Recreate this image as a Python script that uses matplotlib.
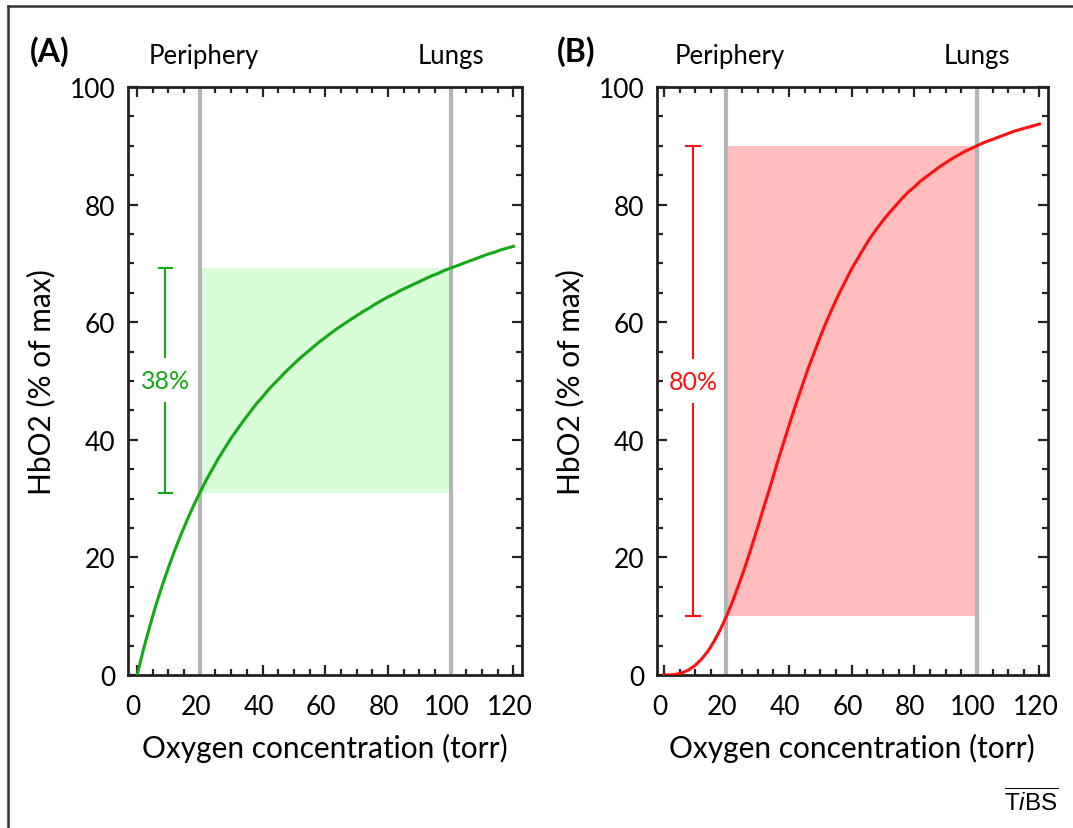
#!/usr/bin/env python3
# -*- coding: utf-8 -*-
"""
Curvas de saturacao de HbO2 vs. pressao de O2: ligacao nao cooperativa (A,
hiperbolica) e cooperativa (B, sigmoide), com a fracao entregue entre
pulmao (100 torr) e periferia (20 torr) destacada.
"""
import matplotlib
matplotlib.use('Agg')
import matplotlib.pyplot as plt
from matplotlib.lines import Line2D
from matplotlib.ticker import MultipleLocator
from matplotlib.transforms import ScaledTranslation

plt.rcParams['font.family'] = ['Lato', 'DejaVu Sans']
plt.rcParams['mathtext.fontset'] = 'custom'
plt.rcParams['mathtext.rm'] = 'Liberation Sans'
plt.rcParams['mathtext.it'] = 'Liberation Sans:italic'

# ── dados ────────────────────────────────────────────────────────────────
oxygen_torr = list(range(0, 122, 2))

hbo2_noncoop = [
    0.0, 4.3, 8.2, 11.9, 15.2, 18.3, 21.2, 23.9, 26.4, 28.8,
    31.0, 33.1, 35.0, 36.9, 38.6, 40.3, 41.8, 43.3, 44.7, 46.1,
    47.3, 48.6, 49.7, 50.8, 51.9, 52.9, 53.9, 54.8, 55.7, 56.6,
    57.4, 58.2, 59.0, 59.7, 60.4, 61.1, 61.8, 62.4, 63.1, 63.7,
    64.3, 64.8, 65.4, 65.9, 66.4, 66.9, 67.4, 67.9, 68.3, 68.8,
    69.2, 69.6, 70.0, 70.4, 70.8, 71.2, 71.6, 71.9, 72.3, 72.6,
    72.9,
]

hbo2_coop = [
    0.0, 0.02, 0.14, 0.41, 0.90, 1.65, 2.7, 4.0, 5.7, 7.7,
    10.0, 12.6, 15.5, 18.5, 21.8, 25.2, 28.7, 32.1, 35.7, 39.1,
    42.5, 45.8, 48.9, 52.0, 54.8, 57.6, 60.2, 62.6, 64.9, 67.0,
    69.1, 70.9, 72.7, 74.4, 75.9, 77.3, 78.6, 79.8, 81.0, 82.1,
    83.0, 84.0, 84.8, 85.6, 86.4, 87.1, 87.8, 88.4, 89.0, 89.5,
    90.0, 90.5, 90.9, 91.3, 91.7, 92.1, 92.5, 92.8, 93.1, 93.4,
    93.7,
]

periphery_torr = 20
lungs_torr = 100

# saturacao na periferia / no pulmao para cada painel
sat_noncoop = (31.0, 69.2)
sat_coop = (10.0, 90.0)
delivered_labels = ["38%", "80%"]

panels = [
    dict(tag="(A)", y=hbo2_noncoop, sat=sat_noncoop, line="#14a814",
         fill="#d9fcd9", label=delivered_labels[0], bar_x=9.0,
         rect=(128, 521.7), xlim=(-2.9, 122.65), tag_x=30),
    dict(tag="(B)", y=hbo2_coop, sat=sat_coop, line="#ff1010",
         fill="#ffbdbd", label=delivered_labels[1], bar_x=9.3,
         rect=(656.7, 1047.6), xlim=(-2.3, 122.6), tag_x=557),
]

# ── figura ───────────────────────────────────────────────────────────────
W, H = 1073, 829
fig = plt.figure(figsize=(W / 100, H / 100), dpi=100)

ax_b = (H - 676) / H
ax_h = 588 / H
shift_left = ScaledTranslation(-4 / 100, 0, fig.dpi_scale_trans)

for p in panels:
    x0, x1 = p["rect"]
    ax = fig.add_axes([x0 / W, ax_b, (x1 - x0) / W, ax_h])
    lo, hi = p["sat"]

    ax.fill_between([periphery_torr, lungs_torr], lo, hi,
                    color=p["fill"], lw=0, zorder=1)
    for xv in (periphery_torr, lungs_torr):
        ax.axvline(xv, color="#b4b4b4", lw=3.0, zorder=2)
    ax.plot(oxygen_torr, p["y"], color=p["line"], lw=2.2, zorder=3)

    # barra da fracao entregue, com o rotulo no meio
    mid = (lo + hi) / 2
    gap = 3.9
    bx = p["bar_x"]
    ax.plot([bx, bx], [lo, mid - gap], color=p["line"], lw=1.5, zorder=3)
    ax.plot([bx, bx], [mid + gap, hi], color=p["line"], lw=1.5, zorder=3)
    for yv in (lo, hi):
        ax.plot([bx - 2.1, bx + 2.1], [yv, yv], color=p["line"], lw=1.5,
                zorder=3)
    ax.text(bx, mid, p["label"], color=p["line"], fontsize=18,
            ha="center", va="center")

    ax.set_xlim(*p["xlim"])
    ax.set_ylim(0, 100)
    ax.xaxis.set_major_locator(MultipleLocator(20))
    ax.xaxis.set_minor_locator(MultipleLocator(5))
    ax.yaxis.set_major_locator(MultipleLocator(20))
    ax.yaxis.set_minor_locator(MultipleLocator(5))
    ax.tick_params(which="both", direction="in", top=True, right=True,
                   width=1.6, color="#222222", labelsize=19)
    ax.tick_params(which="major", length=7)
    ax.tick_params(axis="x", which="major", pad=14)
    ax.tick_params(axis="y", which="major", pad=9)
    ax.tick_params(which="minor", length=4)
    for lbl in ax.get_xticklabels():
        lbl.set_transform(lbl.get_transform() + shift_left)
    for s in ax.spines.values():
        s.set_linewidth(2.0)
        s.set_color("#222222")

    ax.set_xlabel("Oxygen concentration (torr)", fontsize=21.5, labelpad=10)
    ax.set_ylabel("HbO2 (% of max)", fontsize=21.5, labelpad=10)

    ax.text(periphery_torr + 1.2, 105.3, "Periphery", fontsize=18.5,
            ha="center", va="center", clip_on=False)
    ax.text(lungs_torr, 105.3, "Lungs", fontsize=18.5,
            ha="center", va="center", clip_on=False)
    fig.text(p["tag_x"] / W, 1 - 52 / H, p["tag"], fontsize=23,
             fontweight="bold", ha="left", va="center")

# moldura externa (so as bordas de cima e da esquerda aparecem)
fig.add_artist(Line2D([8 / W, 8 / W], [0, 1 - 7 / H], color="#333333",
                      lw=1.8, transform=fig.transFigure))
fig.add_artist(Line2D([8 / W, 1], [1 - 7 / H, 1 - 7 / H], color="#333333",
                      lw=1.8, transform=fig.transFigure))

fig.text(1 - 14 / W, 1 - 802 / H, r"$\overline{\mathrm{T}\mathit{i}\mathrm{BS}}$",
         fontsize=17.5, ha="right", va="center")

fig.savefig("out.png", dpi=100)
plt.close(fig)
